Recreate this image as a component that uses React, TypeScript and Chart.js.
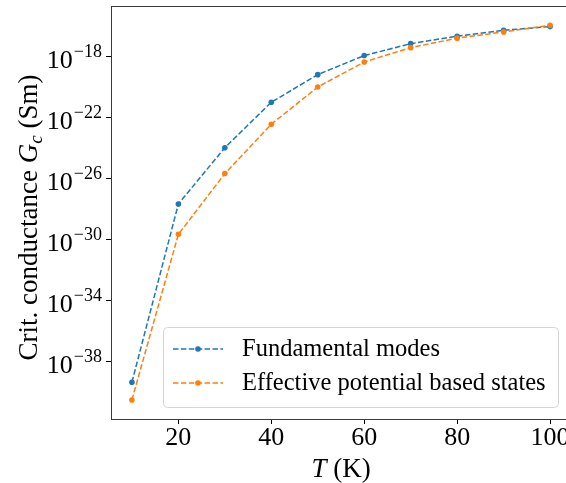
import React, { useEffect, useRef } from "react";
import { Chart, registerables } from "chart.js";

Chart.register(...registerables);

// ---- data ----
const temperatures = [10, 20, 30, 40, 50, 60, 70, 80, 90, 100];
const fundamentalModes = [4.68e-40, 2.29e-28, 1.12e-24, 1.07e-21, 6.92e-20, 1.23e-18, 7.41e-18, 2.29e-17, 5.62e-17, 9.77e-17];
const effectivePotentialStates = [3.24e-41, 2.34e-30, 2.24e-26, 3.89e-23, 1.07e-20, 4.68e-19, 4.07e-18, 1.7e-17, 4.37e-17, 1.2e-16];
const seriesLabels = ["Fundamental modes", "Effective potential based states"];
const yTickValues = [1e-38, 1e-34, 1e-30, 1e-26, 1e-22, 1e-18];
const yTickExponents = ["−38", "−34", "−30", "−26", "−22", "−18"];
const xTickValues = [20, 40, 60, 80, 100];
const xTickLabels = ["20", "40", "60", "80", "100"];

const BLUE = "#1f77b4";
const ORANGE = "#ff7f0e";
const SPINE = "#3a3a3a";
const FONT = '"Liberation Serif", "Times New Roman", serif';

const textPlugin = {
  id: "customText",
  afterDraw(chart: any) {
    const ctx: CanvasRenderingContext2D = chart.ctx;
    const { left, right, top, bottom } = chart.chartArea;
    ctx.save();
    // top spine
    ctx.strokeStyle = SPINE;
    ctx.lineWidth = 1;
    ctx.beginPath();
    ctx.moveTo(left, top + 0.5);
    ctx.lineTo(right, top + 0.5);
    ctx.stroke();

    ctx.fillStyle = "#000";
    ctx.textBaseline = "alphabetic";
    ctx.textAlign = "left";
    // y tick labels
    const ys = chart.scales.y;
    yTickValues.forEach((v, i) => {
      const py = ys.getPixelForValue(v);
      const exp = yTickExponents[i];
      ctx.font = `18px ${FONT}`;
      const ew = ctx.measureText(exp).width;
      ctx.font = `26px ${FONT}`;
      const bw = ctx.measureText("10").width;
      const xr = left - 9;
      ctx.fillText("10", xr - ew - bw - 1, py + 11);
      ctx.font = `18px ${FONT}`;
      ctx.fillText(exp, xr - ew, py);
    });
    // x tick labels
    const xs = chart.scales.x;
    ctx.font = `26px ${FONT}`;
    ctx.textAlign = "center";
    xTickValues.forEach((v, i) => {
      ctx.fillText(xTickLabels[i], xs.getPixelForValue(v), bottom + 26);
    });
    // x title
    ctx.textAlign = "left";
    ctx.font = `italic 27px ${FONT}`;
    const tW = ctx.measureText("T").width;
    ctx.font = `27px ${FONT}`;
    const kW = ctx.measureText(" (K)").width;
    const cx = (left + right) / 2;
    const x0 = cx - (tW + kW) / 2;
    ctx.font = `italic 27px ${FONT}`;
    ctx.fillText("T", x0, 477);
    ctx.font = `27px ${FONT}`;
    ctx.fillText(" (K)", x0 + tW, 477);

    // y title (rotated)
    const parts = [
      { t: "Crit. conductance ", f: `27px ${FONT}`, dy: 0 },
      { t: "G", f: `italic 27px ${FONT}`, dy: 0 },
      { t: "c", f: `italic 19px ${FONT}`, dy: 5 },
      { t: " (Sm)", f: `27px ${FONT}`, dy: 0 },
    ];
    let total = 0;
    const widths = parts.map((p) => {
      ctx.font = p.f;
      const w = ctx.measureText(p.t).width;
      total += w;
      return w;
    });
    ctx.translate(37, (top + bottom) / 2 + 5);
    ctx.rotate(-Math.PI / 2);
    let px = -total / 2;
    parts.forEach((p, i) => {
      ctx.font = p.f;
      ctx.fillText(p.t, px, p.dy);
      px += widths[i];
    });
    ctx.restore();

    // legend
    ctx.save();
    const lx = 163, ly = 327, lw = 395, lh = 80;
    ctx.beginPath();
    (ctx as any).roundRect(lx + 0.5, ly + 0.5, lw, lh, 4);
    ctx.fillStyle = "rgba(255,255,255,0.8)";
    ctx.fill();
    ctx.strokeStyle = "#d6d6d6";
    ctx.lineWidth = 1;
    ctx.stroke();
    const rows = [349, 383];
    const colors = [BLUE, ORANGE];
    rows.forEach((ry, i) => {
      ctx.strokeStyle = colors[i];
      ctx.lineWidth = 1.5;
      ctx.setLineDash([5.5, 2.4]);
      ctx.beginPath();
      ctx.moveTo(173, ry);
      ctx.lineTo(223, ry);
      ctx.stroke();
      ctx.setLineDash([]);
      ctx.fillStyle = colors[i];
      ctx.beginPath();
      ctx.arc(198, ry, 2.8, 0, Math.PI * 2);
      ctx.fill();
      ctx.fillStyle = "#000";
      ctx.font = `24.5px ${FONT}`;
      ctx.textBaseline = "middle";
      ctx.textAlign = "left";
      ctx.fillText(seriesLabels[i], 242, ry + 1);
    });
    ctx.restore();
  },
};

export default function App() {
  const ref = useRef<HTMLCanvasElement>(null);
  useEffect(() => {
    if (!ref.current) return;
    const gridCfg = {
      display: true,
      drawOnChartArea: false,
      drawTicks: true,
      tickLength: 5,
      color: "#000",
      lineWidth: 1,
    };
    const chart = new Chart(ref.current, {
      type: "line",
      data: {
        labels: temperatures,
        datasets: [
          {
            label: seriesLabels[0],
            data: temperatures.map((t, i) => ({ x: t, y: fundamentalModes[i] })),
            borderColor: BLUE,
            backgroundColor: BLUE,
            pointBackgroundColor: BLUE,
            borderDash: [5.5, 2.4],
            borderWidth: 1.5,
            pointRadius: 2.8,
            pointBorderWidth: 0,
            order: 1,
            fill: false,
            tension: 0,
          },
          {
            label: seriesLabels[1],
            data: temperatures.map((t, i) => ({ x: t, y: effectivePotentialStates[i] })),
            borderColor: ORANGE,
            backgroundColor: ORANGE,
            pointBackgroundColor: ORANGE,
            borderDash: [5.5, 2.4],
            borderWidth: 1.5,
            pointRadius: 2.8,
            pointBorderWidth: 0,
            order: 0,
            fill: false,
            tension: 0,
          },
        ],
      },
      options: {
        animation: false,
        responsive: false,
        devicePixelRatio: 1,
        layout: { padding: { top: 6, right: 9, left: 0, bottom: 0 } },
        plugins: { legend: { display: false }, tooltip: { enabled: false } },
        scales: {
          x: {
            type: "linear",
            min: 5.5,
            max: 104.5,
            afterBuildTicks: (s: any) => {
              s.ticks = xTickValues.map((v) => ({ value: v }));
            },
            afterFit: (s: any) => {
              s.height = 64;
            },
            ticks: { display: false },
            grid: gridCfg,
            border: { display: true, color: SPINE, width: 1 },
          },
          y: {
            type: "logarithmic",
            min: Math.pow(10, -41.74),
            max: Math.pow(10, -14.66),
            afterBuildTicks: (s: any) => {
              s.ticks = yTickValues.map((v) => ({ value: v }));
            },
            afterFit: (s: any) => {
              s.width = 111;
            },
            ticks: { display: false },
            grid: gridCfg,
            border: { display: true, color: SPINE, width: 1 },
          },
        },
      } as any,
      plugins: [textPlugin],
    });
    return () => chart.destroy();
  }, []);
  return (
    <div
      style={{
        position: "absolute",
        left: 0,
        top: 0,
        width: 566,
        height: 483,
        overflow: "hidden",
        background: "#fff",
      }}
    >
      <canvas ref={ref} width={580} height={483} style={{ display: "block", width: 580, height: 483 }} />
    </div>
  );
}
